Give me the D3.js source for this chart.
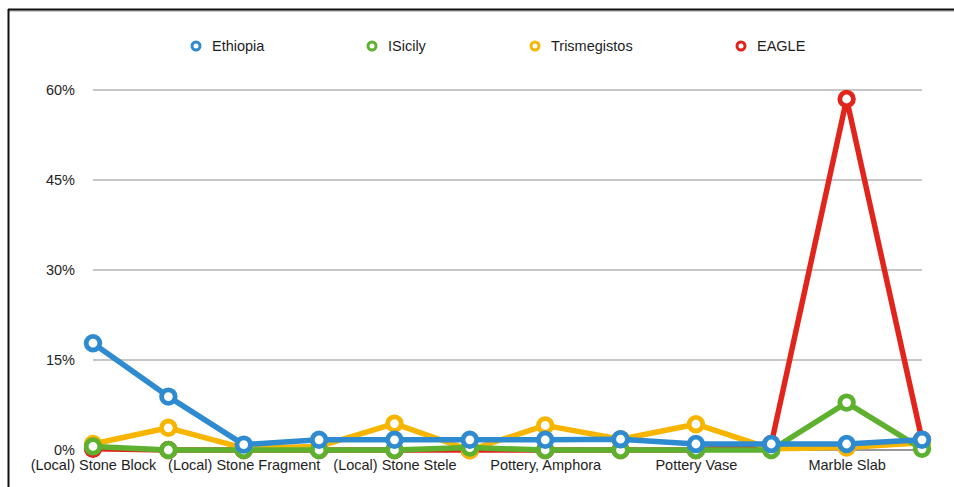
<!DOCTYPE html>
<html>
<head>
<meta charset="utf-8">
<script src="https://cdn.jsdelivr.net/npm/d3@7"></script>
<style>
  html, body { margin: 0; padding: 0; background: #fff; }
  svg { display: block; font-family: "Liberation Sans", Arial, Helvetica, sans-serif; }
</style>
</head>
<body>
<svg id="chart" width="954" height="487"></svg>
<script>
// ---- data ----
const categories = ["(Local) Stone Block", "Stone Block", "(Local) Stone Fragment", "Stone Fragment",
  "(Local) Stone Stele", "Stone Stele", "Pottery, Amphora", "Pottery, Other",
  "Pottery Vase", "Pottery, Fragment", "Marble Slab", "Marble Fragment"];
const shownCategories = ["(Local) Stone Block", "(Local) Stone Fragment", "(Local) Stone Stele",
  "Pottery, Amphora", "Pottery Vase", "Marble Slab"];
const seriesNames = ["Ethiopia", "ISicily", "Trismegistos", "EAGLE"];
const ethiopia     = [17.8, 8.9, 0.9, 1.7, 1.7, 1.7, 1.7, 1.8, 1.0, 1.0, 1.0, 1.7];
const isicily      = [0.6, 0, 0, 0, 0, 0.4, 0, 0, 0, 0, 7.9, 0.2];
const trismegistos = [1.0, 3.7, 0.3, 0.6, 4.4, 0, 4.1, 1.8, 4.3, 0.2, 0.4, 1.2];
const eagle        = [0.2, 0, 0, 0, 0, 0, 0, 0, 0, 1.0, 58.5, 1.7];
const yTicks = [0, 15, 30, 45, 60];

// ---- styles ----
const colors = { Ethiopia: "#2e8bd0", ISicily: "#5db12f", Trismegistos: "#f7b500", EAGLE: "#e1241c" };
const seriesValues = { Ethiopia: ethiopia, ISicily: isicily, Trismegistos: trismegistos, EAGLE: eagle };
const drawOrder = ["EAGLE", "Trismegistos", "ISicily", "Ethiopia"];
const legendPos = { Ethiopia: 196, ISicily: 372, Trismegistos: 535, EAGLE: 741 };

const svg = d3.select("#chart");

// frame
svg.append("line").attr("x1", 8).attr("x2", 954).attr("y1", 11).attr("y2", 11)
  .attr("stroke", "#999").attr("stroke-width", 1);
svg.append("line").attr("x1", 8).attr("x2", 954).attr("y1", 9.5).attr("y2", 9.5)
  .attr("stroke", "#111").attr("stroke-width", 2);
svg.append("line").attr("x1", 8.5).attr("x2", 8.5).attr("y1", 9).attr("y2", 487)
  .attr("stroke", "#111").attr("stroke-width", 2);

const x = d3.scalePoint().domain(categories).range([93, 922]);
const y = d3.scaleLinear().domain([0, 60]).range([450, 90]);

// gridlines
const grid = svg.append("g");
grid.selectAll("line").data(yTicks.filter(d => d > 0)).join("line")
  .attr("x1", 93).attr("x2", 922)
  .attr("y1", d => y(d)).attr("y2", d => y(d))
  .attr("stroke", "#b3b3b3").attr("stroke-width", 1.5);
grid.append("line").attr("x1", 93).attr("x2", 922)
  .attr("y1", y(0)).attr("y2", y(0))
  .attr("stroke", "#333").attr("stroke-width", 1.2);

// y axis
const yAxis = svg.append("g").attr("transform", "translate(75,0)")
  .call(d3.axisLeft(y).tickValues(yTicks).tickSize(0).tickPadding(0).tickFormat(d => d + "%"));
yAxis.select(".domain").remove();
yAxis.selectAll("text").attr("font-size", 14.5).attr("fill", "#1e1e1e")
  .attr("font-family", "Liberation Sans, Arial, sans-serif");

// x axis
const xAxis = svg.append("g").attr("transform", "translate(0,460)")
  .call(d3.axisBottom(x).tickValues(shownCategories).tickSize(0).tickPadding(0));
xAxis.select(".domain").remove();
xAxis.selectAll("text").attr("font-size", 14.5).attr("fill", "#1e1e1e")
  .attr("font-family", "Liberation Sans, Arial, sans-serif");

// series
const line = d3.line().x((d, i) => x(categories[i])).y(d => y(d));
drawOrder.forEach(name => {
  const vals = seriesValues[name];
  const g = svg.append("g");
  g.append("path").datum(vals).attr("d", line)
    .attr("fill", "none").attr("stroke", colors[name]).attr("stroke-width", 5.5)
    .attr("stroke-linejoin", "round").attr("stroke-linecap", "round");
  g.selectAll("circle").data(vals).join("circle")
    .attr("cx", (d, i) => x(categories[i])).attr("cy", d => y(d))
    .attr("r", 6.8).attr("fill", "#fff")
    .attr("stroke", colors[name]).attr("stroke-width", 4.8);
});

// legend
const leg = svg.append("g");
seriesNames.forEach(name => {
  const lx = legendPos[name];
  leg.append("circle").attr("cx", lx).attr("cy", 46).attr("r", 4)
    .attr("fill", "#fff").attr("stroke", colors[name]).attr("stroke-width", 3);
  leg.append("text").attr("x", lx + 16).attr("y", 51)
    .attr("font-size", 14.5).attr("fill", "#1e1e1e").text(name);
});
</script>
</body>
</html>
